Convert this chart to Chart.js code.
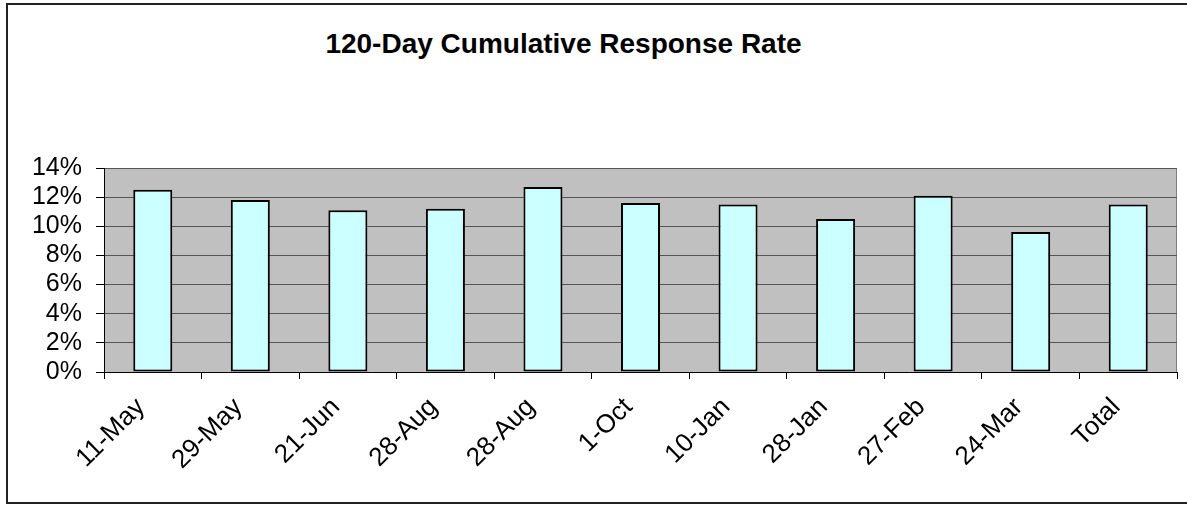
<!DOCTYPE html>
<html>
<head>
<meta charset="utf-8">
<script src="https://cdn.jsdelivr.net/npm/chart.js@4.4.0/dist/chart.umd.min.js"></script>
<style>
  body { margin: 0; background: #fff; }
  #wrap { position: relative; width: 1187px; height: 507px; overflow: hidden; }
  #frame { position: absolute; left: 6px; top: 3px; width: 1200px; height: 501px; border: 2px solid #222; box-sizing: border-box; }
  #titulo { position: absolute; left: 0; top: 31px; width: 1127px; text-align: center;
            font: bold 28px "Liberation Sans", Arial, sans-serif; line-height: 26px; color: #000; }
  canvas { position: absolute; left: 0; top: 0; }
</style>
</head>
<body>
<div id="wrap">
  <div id="frame"></div>
  <div id="titulo">120-Day Cumulative Response Rate</div>
  <canvas id="grafico" width="1187" height="507"></canvas>
</div>
<script>
// dados
const categorias = ['11-May', '29-May', '21-Jun', '28-Aug', '28-Aug', '1-Oct', '10-Jan', '28-Jan', '27-Feb', '24-Mar', 'Total'];
const taxas = [12.5, 11.8, 11.1, 11.2, 12.7, 11.6, 11.5, 10.5, 12.1, 9.6, 11.5];
const ticksY = [0, 2, 4, 6, 8, 10, 12, 14];

// fundo cinza da área do gráfico
const fundoPlot = {
  id: 'fundoPlot',
  beforeDraw(chart) {
    const { ctx, chartArea: a } = chart;
    ctx.save();
    ctx.fillStyle = '#C0C0C0';
    ctx.fillRect(a.left, a.top, a.right - a.left, a.bottom - a.top);
    ctx.strokeStyle = '#808080';
    ctx.lineWidth = 1;
    ctx.strokeRect(a.left + 0.5, a.top + 0.5, a.right - a.left - 1, a.bottom - a.top);
    ctx.restore();
  }
};

const familia = '"Liberation Sans", Arial, sans-serif';

new Chart(document.getElementById('grafico').getContext('2d'), {
  type: 'bar',
  data: {
    labels: categorias,
    datasets: [{
      data: taxas,
      backgroundColor: '#CCFFFF',
      borderColor: '#000',
      borderWidth: 2,
      borderSkipped: false,
      categoryPercentage: 1,
      barPercentage: 0.4
    }]
  },
  options: {
    responsive: false,
    animation: false,
    layout: { padding: { left: 0, right: 10, top: 168, bottom: 0 } },
    plugins: { legend: { display: false }, title: { display: false }, tooltip: { enabled: false } },
    scales: {
      x: {
        afterFit(scale) { scale.height = 135; },
        grid: { offset: true, drawOnChartArea: false, drawTicks: true, tickLength: 7, color: '#000' },
        border: { color: '#000', width: 1 },
        ticks: { color: '#000', font: { family: familia, size: 26 }, minRotation: 45, maxRotation: 45, autoSkip: false, padding: 13, labelOffset: -12 }
      },
      y: {
        min: 0,
        max: 14,
        afterFit(scale) { scale.width = 104; },
        afterBuildTicks(scale) { scale.ticks = ticksY.map(v => ({ value: v })); },
        grid: { color: '#555', tickColor: '#000', tickLength: 8 },
        border: { color: '#000', width: 1 },
        ticks: { color: '#000', font: { family: familia, size: 25 }, padding: 14, autoSkip: false, callback: v => v + '%' }
      }
    }
  },
  plugins: [fundoPlot]
});
</script>
</body>
</html>
